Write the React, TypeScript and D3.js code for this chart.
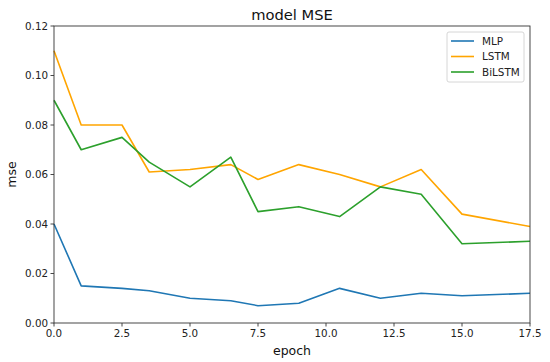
import React from "react";
import * as d3 from "d3";

const epochs = [0, 1, 2.5, 3.5, 5, 6.5, 7.5, 9, 10.5, 12, 13.5, 15, 17.5];
const mlp = [0.04, 0.015, 0.014, 0.013, 0.01, 0.009, 0.007, 0.008, 0.014, 0.01, 0.012, 0.011, 0.012];
const lstm = [0.11, 0.08, 0.08, 0.061, 0.062, 0.064, 0.058, 0.064, 0.06, 0.055, 0.062, 0.044, 0.039];
const bilstm = [0.09, 0.07, 0.075, 0.065, 0.055, 0.067, 0.045, 0.047, 0.043, 0.055, 0.052, 0.032, 0.033];
const xTicks = [0, 2.5, 5, 7.5, 10, 12.5, 15, 17.5];
const yTicks = [0, 0.02, 0.04, 0.06, 0.08, 0.1, 0.12];
const seriesNames = ["MLP", "LSTM", "BiLSTM"];
const colors = ["#1f77b4", "#ffa500", "#2ca02c"];

export default function App() {
  const W = 550, H = 362;
  const L = 54, R = 530, T = 26, B = 323;
  const x = d3.scaleLinear().domain([0, 17.5]).range([L, R]);
  const y = d3.scaleLinear().domain([0, 0.12]).range([B, T]);
  const all = [mlp, lstm, bilstm];
  const line = d3.line<number>().x((_, i) => x(epochs[i])).y((d) => y(d));
  const font = "DejaVu Sans, sans-serif";
  return (
    <svg width={W} height={H} style={{ position: "absolute", left: 0, top: 0 }} fontFamily={font}>
      <rect width={W} height={H} fill="white" />
      <text x={(L + R) / 2} y={20} textAnchor="middle" fontSize={14.7} fill="#111">model MSE</text>
      {all.map((s, k) => (
        <path key={k} d={line(s) || ""} fill="none" stroke={colors[k]} strokeWidth={1.6} strokeLinejoin="round" />
      ))}
      <rect x={L} y={T} width={R - L} height={B - T} fill="none" stroke="#333" strokeWidth={0.9} />
      {xTicks.map((t) => (
        <g key={t}>
          <line x1={x(t)} x2={x(t)} y1={B} y2={B + 3.5} stroke="#333" strokeWidth={0.9} />
          <text x={x(t)} y={B + 14} textAnchor="middle" fontSize={10.3} fill="#222">{t.toFixed(1)}</text>
        </g>
      ))}
      {yTicks.map((t) => (
        <g key={t}>
          <line x1={L - 3.5} x2={L} y1={y(t)} y2={y(t)} stroke="#333" strokeWidth={0.9} />
          <text x={L - 6} y={y(t) + 3.7} textAnchor="end" fontSize={10.3} fill="#222">{t.toFixed(2)}</text>
        </g>
      ))}
      <text x={(L + R) / 2} y={355} textAnchor="middle" fontSize={12.5} fill="#111">epoch</text>
      <text transform={`translate(16,${(T + B) / 2}) rotate(-90)`} textAnchor="middle" fontSize={12.5} fill="#111">mse</text>
      <rect x={447} y={32} width={77} height={50} rx={2} fill="white" fillOpacity={0.8} stroke="#ccc" strokeWidth={0.8} />
      {seriesNames.map((n, k) => (
        <g key={n}>
          <line x1={451} x2={474} y1={41 + k * 15.5} y2={41 + k * 15.5} stroke={colors[k]} strokeWidth={1.6} />
          <text x={482} y={41 + k * 15.5 + 3.7} fontSize={10.4} fill="#222">{n}</text>
        </g>
      ))}
    </svg>
  );
}
